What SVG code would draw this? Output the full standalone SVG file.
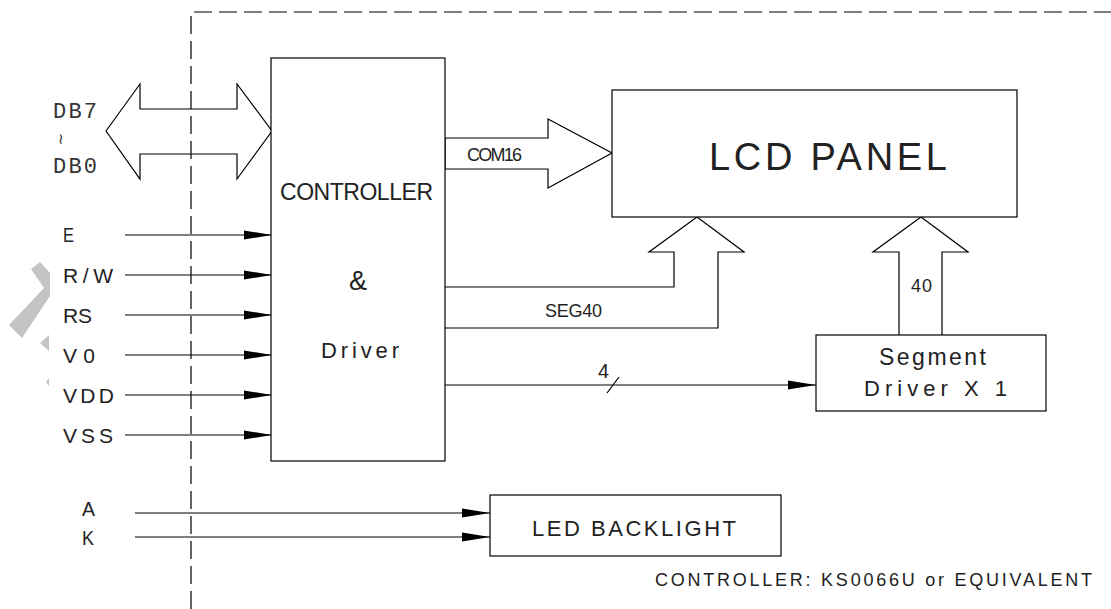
<svg xmlns="http://www.w3.org/2000/svg" width="1111" height="609" viewBox="0 0 1111 609">
<style>
.ln{fill:none;stroke:#000;stroke-width:1.2}
.box{fill:#fff;stroke:#000;stroke-width:1.2}
.dash{fill:none;stroke:#000;stroke-width:1.2;stroke-dasharray:18 7}
.t{font-family:"Liberation Sans",Arial,sans-serif;fill:#222}
.m{font-family:"Liberation Mono","Courier New",monospace;fill:#333}
.wm{fill:#c4c4c4;stroke:none}
</style>
<defs>
<marker id="ah" markerUnits="userSpaceOnUse" markerWidth="28" markerHeight="10" refX="28" refY="5" orient="auto">
<path d="M0,0.5 L28,5 L0,9.5 z" fill="#000"/>
</marker>
</defs>
<rect width="1111" height="609" fill="#fff"/>
<g id="watermark">
<polygon class="wm" points="31,269 40,262 50,273 50,296 22,338 9,325 44,288"/>
<polygon class="wm" points="40,343 49,335 49,351"/>
<polygon class="wm" points="46,382 49,378 49,386"/>
</g>
<g id="boundary">
<path class="dash" d="M191,609 V12 H1111"/>
</g>
<g id="connectors">
<polygon class="ln" points="106,131 140,84 140,109 237,109 237,84 272,131 237,179 237,154 140,154 140,179"/>
<polygon class="ln" points="445,138 548,138 548,119 612,153 548,188 548,169 445,169"/>
<path class="ln" d="M445,287 H674 V252 H649 L697,217 L744,252 H718 V328 H445"/>
<path class="ln" d="M899,335 V252 H873 L921,217 L968,252 H942 V335"/>
<line class="ln" x1="125" y1="235" x2="272" y2="235" marker-end="url(#ah)"/>
<line class="ln" x1="125" y1="275" x2="272" y2="275" marker-end="url(#ah)"/>
<line class="ln" x1="125" y1="315" x2="272" y2="315" marker-end="url(#ah)"/>
<line class="ln" x1="125" y1="355" x2="272" y2="355" marker-end="url(#ah)"/>
<line class="ln" x1="125" y1="395" x2="272" y2="395" marker-end="url(#ah)"/>
<line class="ln" x1="125" y1="435" x2="272" y2="435" marker-end="url(#ah)"/>
<line class="ln" x1="445" y1="385" x2="816" y2="385" marker-end="url(#ah)"/>
<line class="ln" x1="607" y1="393" x2="619" y2="377"/>
<line class="ln" x1="135" y1="513" x2="490" y2="513" marker-end="url(#ah)"/>
<line class="ln" x1="135" y1="537" x2="490" y2="537" marker-end="url(#ah)"/>
<text class="m" x="53" y="118" font-size="22" textLength="44" lengthAdjust="spacing">DB7</text>
<text x="58" y="144" font-family="DejaVu Sans, sans-serif" font-size="15" fill="#333">≀</text>
<text class="m" x="53" y="173" font-size="22" textLength="44" lengthAdjust="spacing">DB0</text>
<text class="t" x="63" y="242" font-size="21" textLength="11" lengthAdjust="spacingAndGlyphs">E</text>
<text class="t" x="63" y="283" font-size="21" textLength="50" lengthAdjust="spacing">R/W</text>
<text class="t" x="63" y="323" font-size="21" textLength="29" lengthAdjust="spacing">RS</text>
<text class="t" x="63" y="363" font-size="21" textLength="32" lengthAdjust="spacing">V0</text>
<text class="t" x="63" y="403" font-size="21" textLength="51" lengthAdjust="spacing">VDD</text>
<text class="t" x="63" y="443" font-size="21" textLength="50" lengthAdjust="spacing">VSS</text>
<text class="t" x="82" y="516" font-size="21" textLength="13" lengthAdjust="spacingAndGlyphs">A</text>
<text class="t" x="82" y="545" font-size="21" textLength="12" lengthAdjust="spacingAndGlyphs">K</text>
<text class="t" x="467" y="161" font-size="18" textLength="55" lengthAdjust="spacing">COM16</text>
<text class="t" x="545" y="317" font-size="18" textLength="57" lengthAdjust="spacing">SEG40</text>
<text class="t" x="911" y="292" font-size="18" textLength="21" lengthAdjust="spacing">40</text>
<text class="t" x="598" y="378" font-size="20" textLength="11" lengthAdjust="spacingAndGlyphs">4</text>
</g>
<g id="controller">
<rect class="box" x="271" y="58" width="174" height="403"/>
<text class="t" x="280" y="200" font-size="23" textLength="153" lengthAdjust="spacing">CONTROLLER</text>
<text class="t" x="349" y="290" font-size="27" textLength="18" lengthAdjust="spacingAndGlyphs">&amp;</text>
<text class="t" x="321" y="358" font-size="22" textLength="78" lengthAdjust="spacing">Driver</text>
</g>
<g id="lcd-panel">
<rect class="box" x="612" y="90" width="405" height="127"/>
<text class="t" x="709" y="170" font-size="38" textLength="238" lengthAdjust="spacing">LCD PANEL</text>
</g>
<g id="segment-driver">
<rect class="box" x="816" y="335" width="230" height="76"/>
<text class="t" x="879" y="365" font-size="23" textLength="107" lengthAdjust="spacing">Segment</text>
<text class="t" x="864" y="396" font-size="22" textLength="143" lengthAdjust="spacing">Driver X 1</text>
</g>
<g id="led-backlight">
<rect class="box" x="490" y="495" width="291" height="61"/>
<text class="t" x="532" y="536" font-size="22" textLength="204" lengthAdjust="spacing">LED BACKLIGHT</text>
</g>
<g id="note">
<text class="t" x="655" y="586" font-size="18" textLength="437" lengthAdjust="spacing">CONTROLLER: KS0066U or EQUIVALENT</text>
</g>
</svg>
